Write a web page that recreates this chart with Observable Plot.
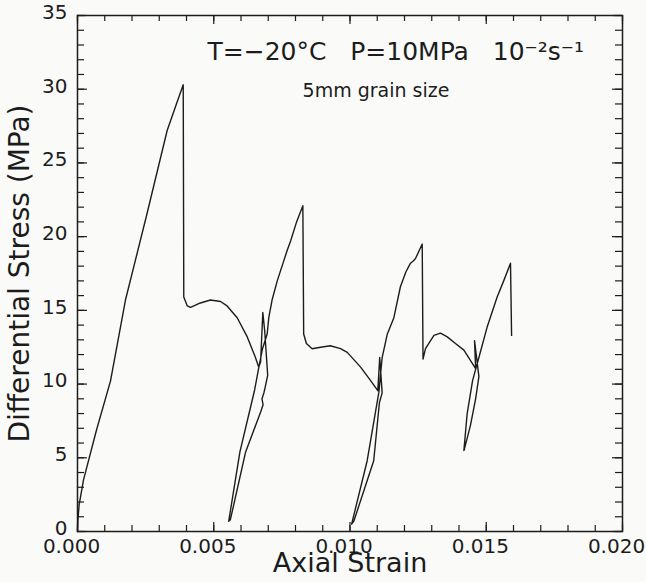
<!DOCTYPE html>
<html><head><meta charset="utf-8">
<script src="https://cdn.jsdelivr.net/npm/d3@7"></script>
<script src="https://cdn.jsdelivr.net/npm/@observablehq/plot@0.6"></script>
<style>
body{margin:0;background:#fafbf9;}
</style></head><body><div id="chart"></div>
<script>
// Stress–strain path (single continuous record)
const strain = [
  0, 0.00002, 0.00006, 0.00022, 0.00070, 0.00121, 0.00176, 0.00253, 0.00329, 0.00363, 0.00388,
  0.00390, 0.00403, 0.00415, 0.00451, 0.00488, 0.00525, 0.00549, 0.00586, 0.00623, 0.00653, 0.00665,
  0.00672, 0.00680, 0.00687, 0.00698,
  0.00690, 0.00684, 0.00677, 0.00681, 0.00672, 0.00617, 0.00561, 0.00555,
  0.00596, 0.00650, 0.00664, 0.00679, 0.00696, 0.00702, 0.00714, 0.00733, 0.00770, 0.00782, 0.00804, 0.00827,
  0.00830, 0.00840, 0.00861, 0.00892, 0.00928, 0.00965, 0.00990, 0.01039, 0.01075, 0.01102,
  0.01109, 0.01118,
  0.01108, 0.01087, 0.01014, 0.01006,
  0.01063, 0.01106, 0.01118, 0.01137, 0.01161, 0.01185, 0.01205, 0.01222, 0.01232, 0.01240, 0.01265,
  0.01268, 0.01277, 0.01308, 0.01332, 0.01357, 0.01387, 0.01418, 0.01461,
  0.01457, 0.01473,
  0.01461, 0.01442, 0.01420, 0.01418,
  0.01430, 0.01450, 0.01473, 0.01503, 0.01540, 0.01564, 0.01589,
  0.01593
];
const stress = [
  0, 0.9, 1.8, 3.5, 6.9, 10.2, 15.7, 21.4, 27.2, 29.0, 30.3,
  15.9, 15.3, 15.2, 15.5, 15.7, 15.6, 15.3, 14.5, 13.2, 11.8, 11.15,
  11.5, 14.85, 13.6, 10.6,
  9.9, 9.4, 9.0, 8.6, 8.1, 5.4, 0.8, 0.7,
  5.4, 9.6, 11.0, 12.4, 13.4, 14.5, 15.7, 17.0, 19.1, 19.7, 21.0, 22.1,
  13.4, 12.75, 12.4, 12.5, 12.6, 12.4, 12.15, 11.15, 10.25, 9.55,
  11.8, 9.4,
  8.75, 4.8, 0.7, 0.5,
  4.8, 9.45, 11.8, 13.4, 14.5, 16.6, 17.6, 18.2, 18.35, 18.5, 19.5,
  11.7, 12.4, 13.3, 13.45, 13.2, 12.75, 12.3, 11.05,
  12.95, 10.5,
  9.0, 7.2, 5.6, 5.5,
  8.0, 10.25, 11.8, 13.85, 15.9, 17.0, 18.2,
  13.3
];
const points = strain.map((s, i) => ({strain: s, stress: stress[i]}));

const xTickLabels = [0, 0.005, 0.010, 0.015, 0.020];
const yTickLabels = [0, 5, 10, 15, 20, 25, 30, 35];
const xMinor = [0,0.001,0.002,0.003,0.004,0.005,0.006,0.007,0.008,0.009,0.010,0.011,0.012,0.013,0.014,0.015,0.016,0.017,0.018,0.019,0.020];
const yMinor = [0,1,2,3,4,5,6,7,8,9,10,11,12,13,14,15,16,17,18,19,20,21,22,23,24,25,26,27,28,29,30,31,32,33,34,35];

const xTitle = "Axial Strain";
const yTitle = "Differential Stress (MPa)";
const gap = "\u00a0\u00a0\u00a0";
const note1 = "T=\u221220°C" + gap + "P=10MPa" + gap + "10\u207b\u00b2s\u207b\u00b9";
const note2 = "5mm grain size";

const W = 646, H = 582, mT = 15, mB = 51, mL = 77, mR = 24;
const fh = H - mT - mB, fw = W - mL - mR;
const ink = "#1c1c1c";

const chart = Plot.plot({
  width: W, height: H,
  marginTop: mT, marginBottom: mB, marginLeft: mL, marginRight: mR,
  style: {background: "transparent", fontFamily: "DejaVu Sans", color: ink, fontSize: "20px", overflow: "visible"},
  x: {domain: [0, 0.02]},
  y: {domain: [0, 35]},
  marks: [
    Plot.frame({stroke: ink, strokeWidth: 1.5}),
    // inward ticks on all four sides
    Plot.tickX(xMinor, {x: d => d, insetTop: fh - 6, stroke: ink, strokeWidth: 1.2}),
    Plot.tickX(xMinor, {x: d => d, insetBottom: fh - 6, stroke: ink, strokeWidth: 1.2}),
    Plot.tickX(xTickLabels, {x: d => d, insetTop: fh - 9, stroke: ink, strokeWidth: 1.2}),
    Plot.tickX(xTickLabels, {x: d => d, insetBottom: fh - 9, stroke: ink, strokeWidth: 1.2}),
    Plot.tickY(yMinor, {y: d => d, insetRight: fw - 7, stroke: ink, strokeWidth: 1.2}),
    Plot.tickY(yMinor, {y: d => d, insetLeft: fw - 7, stroke: ink, strokeWidth: 1.2}),
    Plot.tickY(yTickLabels, {y: d => d, insetRight: fw - 10, stroke: ink, strokeWidth: 1.2}),
    Plot.tickY(yTickLabels, {y: d => d, insetLeft: fw - 10, stroke: ink, strokeWidth: 1.2}),
    Plot.axisX({ticks: xTickLabels, tickSize: 0, tickPadding: 7, dx: -6, tickFormat: d3.format(".3f"), fontSize: 20, label: null}),
    Plot.axisY({ticks: yTickLabels, tickSize: 0, tickPadding: 10, dy: -3, fontSize: 20, label: null}),
    Plot.line(points, {x: "strain", y: "stress", stroke: ink, strokeWidth: 1.4, strokeLinejoin: "round"}),
    Plot.text([xTitle], {frameAnchor: "bottom", dy: 40, fontSize: 27, fill: ink}),
    Plot.text([yTitle], {frameAnchor: "left", textAnchor: "middle", dx: -57, rotate: -90, fontSize: 28, fill: ink}),
    Plot.text([note1], {x: 0.00477, y: 32.5, textAnchor: "start", fontSize: 25, fill: ink}),
    Plot.text([note2], {x: 0.00826, y: 29.9, textAnchor: "start", fontSize: 19, fill: ink})
  ]
});
document.getElementById("chart").appendChild(chart);
</script>
</body></html>
